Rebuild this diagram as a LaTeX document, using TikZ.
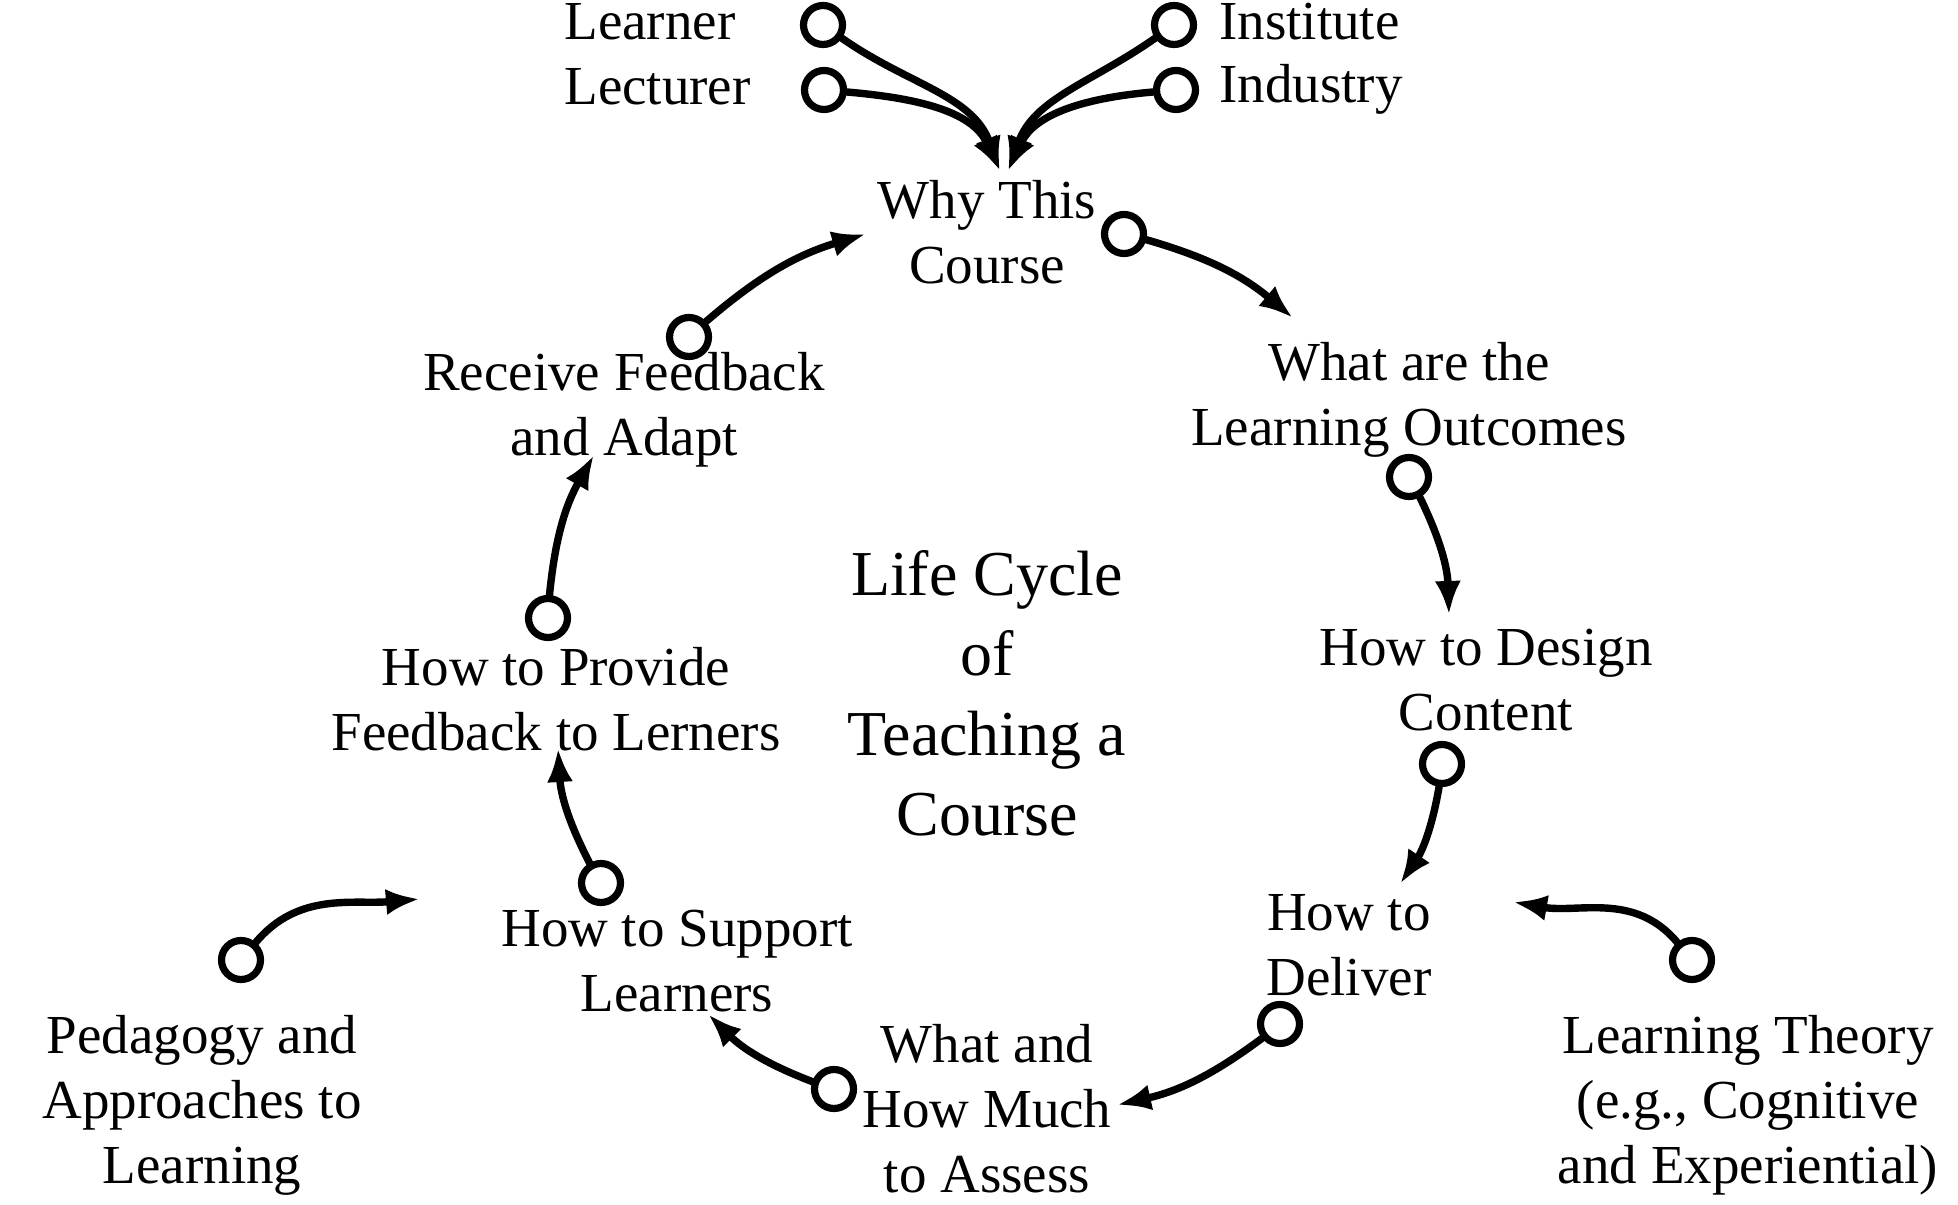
\documentclass[tikz,border=0pt]{standalone}
\usepackage{fontspec}
\setmainfont{Liberation Serif}
\usetikzlibrary{arrows.meta}
\begin{document}
\begin{tikzpicture}[x=0.5pt,y=0.5pt,
  lbl/.style={align=center, font=\fontsize{27.5}{32.5}\selectfont, inner sep=0pt},
  big/.style={align=center, font=\fontsize{32}{40}\selectfont, inner sep=0pt},
  port/.style={circle, draw, line width=3.6pt, minimum size=19.5pt, inner sep=0pt},
  flow/.style={line width=3.7pt, line cap=round, -{Latex[length=17pt,width=13pt]}},
  cyc/.style={flow, bend left=12},
]
\useasboundingbox (0,0) rectangle (1958,1204);

% top inputs
\node[lbl, anchor=west] (learner) at (564,1182) {Learner};
\node[lbl, anchor=west] (lecturer) at (564,1117) {Lecturer};
\node[lbl, anchor=west] (institute) at (1219,1182) {Institute};
\node[lbl, anchor=west] (industry) at (1219,1115) {Industry};
\node[port] (pLearner) at (823,1179) {};
\node[port] (pLecturer) at (824,1114) {};
\node[port] (pInstitute) at (1174,1179) {};
\node[port] (pIndustry) at (1176,1114) {};
\coordinate (tipL) at (1000,1033);
\coordinate (tipR) at (1008,1033);

% cycle
\node[lbl] (why) at (987,972) {Why This\\Course};
\node[lbl] (outcomes) at (1409,804) {What are the\\Learning Outcomes};
\node[lbl] (design) at (1486,524) {How to Design\\Content};
\node[lbl] (deliver) at (1349,259) {How to\\Deliver};
\node[lbl] (assess) at (987,95) {What and\\How Much\\to Assess};
\node[lbl] (support) at (677,243) {How to Support\\Learners};
\node[lbl] (provide) at (556,505) {How to Provide\\Feedback to Lerners};
\node[lbl] (receive) at (624,794) {Receive Feedback\\and Adapt};
\node[big] (life) at (987,511) {Life Cycle\\of\\Teaching a\\Course};
\node[lbl] (pedagogy) at (202,99) {Pedagogy and\\Approaches to\\Learning};
\node[lbl] (theory) at (1748,99) {Learning Theory\\(e.g., Cognitive\\and Experiential)};

\node[port] (pWhy) at (1124,970) {};
\node[port] (pOutcomes) at (1409,727) {};
\node[port] (pDesign) at (1442,440) {};
\node[port] (pDeliver) at (1280,180) {};
\node[port] (pAssess) at (834,115) {};
\node[port] (pSupport) at (601,321) {};
\node[port] (pProvide) at (548,586) {};
\node[port] (pReceive) at (689,867) {};
\node[port] (pPedagogy) at (241,244) {};
\node[port] (pTheory) at (1692,244) {};

\coordinate (eWhy) at (1293,886);
\coordinate (eOutcomes) at (1449,589);
\coordinate (eDesign) at (1400,320);
\coordinate (eDeliver) at (1117,99);
\coordinate (eAssess) at (708,190);
\coordinate (eSupport) at (558,456);
\coordinate (eProvide) at (594,749);
\coordinate (eReceive) at (866,970);
\coordinate (ePedagogy) at (420,305);
\coordinate (eTheory) at (1513,302);

% connectors
\draw[flow] (pLearner) to[out=-35, in=110] (tipL);
\draw[flow] (pLecturer) to[out=-5, in=115] (tipL);
\draw[flow] (pInstitute) to[out=215, in=70] (tipR);
\draw[flow] (pIndustry) to[out=185, in=65] (tipR);

\draw[cyc] (pWhy) to (eWhy);
\draw[cyc] (pOutcomes) to (eOutcomes);
\draw[cyc] (pDesign) to (eDesign);
\draw[cyc] (pDeliver) to (eDeliver);
\draw[cyc] (pAssess) to (eAssess);
\draw[cyc] (pSupport) to (eSupport);
\draw[cyc] (pProvide) to (eProvide);
\draw[cyc] (pReceive) to (eReceive);

\draw[flow] (pPedagogy) to[out=50, in=185] (ePedagogy);
\draw[flow] (pTheory) to[out=130, in=-10] (eTheory);
\end{tikzpicture}
\end{document}
